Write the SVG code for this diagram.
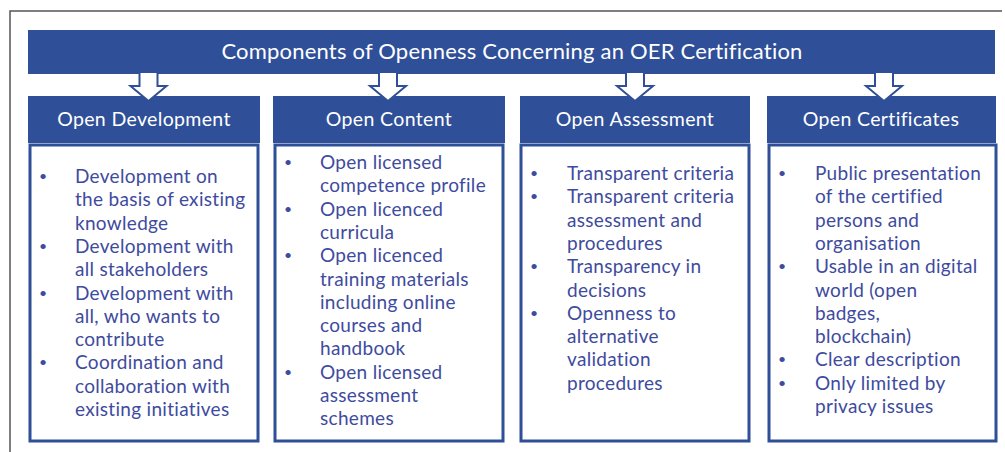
<svg xmlns="http://www.w3.org/2000/svg" width="1005" height="452" viewBox="0 0 1005 452">
<style>
.bg{fill:#fff}
.frame{fill:none;stroke:#555;stroke-width:1.5}
.band{fill:#2f4f98}
.hdr{fill:#2f4f98}
.box{fill:#fff;stroke:#2f4f98;stroke-width:3}
.arrow{fill:#fff;stroke:#2f4f98;stroke-width:2;stroke-linejoin:miter}
.title{font-family:Lato,"Liberation Sans",sans-serif;font-size:22px;letter-spacing:0.2px;fill:#fff;text-anchor:middle}
.htxt{font-family:Lato,"Liberation Sans",sans-serif;font-size:19.5px;letter-spacing:0.35px;fill:#fff;text-anchor:middle}
.item{font-family:Lato,"Liberation Sans",sans-serif;font-size:19px;letter-spacing:0.3px;fill:#3e4b9e}
.dot{font-size:14px}
</style>
<rect class="bg" x="0" y="0" width="1005" height="452"/>
<path class="frame" d="M10,452 V11 H1002"/>
<g id="title">
<rect class="band" x="28" y="30" width="967" height="44"/>
<text class="title" x="512" y="59">Components of Openness Concerning an OER Certification</text>
</g>
<g id="open-development">
<rect class="hdr" x="28" y="96" width="232" height="47"/>
<text class="htxt" x="144" y="126">Open Development</text>
<rect class="box" x="30" y="145" width="228" height="296"/>
<text class="item"><tspan class="dot" x="39" y="181">•</tspan><tspan x="75" y="183">Development on</tspan><tspan x="75" y="206.3">the basis of existing</tspan><tspan x="75" y="229.6">knowledge</tspan><tspan class="dot" x="39" y="250.9">•</tspan><tspan x="75" y="252.9">Development with</tspan><tspan x="75" y="276.2">all stakeholders</tspan><tspan class="dot" x="39" y="297.5">•</tspan><tspan x="75" y="299.5">Development with</tspan><tspan x="75" y="322.8">all, who wants to</tspan><tspan x="75" y="346.1">contribute</tspan><tspan class="dot" x="39" y="367.4">•</tspan><tspan x="75" y="369.4">Coordination and</tspan><tspan x="75" y="392.7">collaboration with</tspan><tspan x="75" y="416">existing initiatives</tspan></text>
</g>
<g id="open-content">
<rect class="hdr" x="273" y="96" width="232" height="47"/>
<text class="htxt" x="389" y="126">Open Content</text>
<rect class="box" x="275" y="145" width="228" height="296"/>
<text class="item"><tspan class="dot" x="284" y="167">•</tspan><tspan x="320" y="169">Open licensed</tspan><tspan x="320" y="192.3">competence profile</tspan><tspan class="dot" x="284" y="213.6">•</tspan><tspan x="320" y="215.6">Open licenced</tspan><tspan x="320" y="238.9">curricula</tspan><tspan class="dot" x="284" y="260.2">•</tspan><tspan x="320" y="262.2">Open licenced</tspan><tspan x="320" y="285.5">training materials</tspan><tspan x="320" y="308.8">including online</tspan><tspan x="320" y="332.1">courses and</tspan><tspan x="320" y="355.4">handbook</tspan><tspan class="dot" x="284" y="376.7">•</tspan><tspan x="320" y="378.7">Open licensed</tspan><tspan x="320" y="402">assessment</tspan><tspan x="320" y="425.3">schemes</tspan></text>
</g>
<g id="open-assessment">
<rect class="hdr" x="520" y="96" width="230" height="47"/>
<text class="htxt" x="635" y="126">Open Assessment</text>
<rect class="box" x="521" y="145" width="228" height="296"/>
<text class="item"><tspan class="dot" x="530" y="178">•</tspan><tspan x="567" y="180">Transparent criteria</tspan><tspan class="dot" x="530" y="201.3">•</tspan><tspan x="567" y="203.3">Transparent criteria</tspan><tspan x="567" y="226.6">assessment and</tspan><tspan x="567" y="249.9">procedures</tspan><tspan class="dot" x="530" y="271.2">•</tspan><tspan x="567" y="273.2">Transparency in</tspan><tspan x="567" y="296.5">decisions</tspan><tspan class="dot" x="530" y="317.8">•</tspan><tspan x="567" y="319.8">Openness to</tspan><tspan x="567" y="343.1">alternative</tspan><tspan x="567" y="366.4">validation</tspan><tspan x="567" y="389.7">procedures</tspan></text>
</g>
<g id="open-certificates">
<rect class="hdr" x="767" y="96" width="229" height="47"/>
<text class="htxt" x="881" y="126">Open Certificates</text>
<rect class="box" x="769" y="145" width="227" height="296"/>
<text class="item"><tspan class="dot" x="778" y="178">•</tspan><tspan x="815" y="180">Public presentation</tspan><tspan x="815" y="203.3">of the certified</tspan><tspan x="815" y="226.6">persons and</tspan><tspan x="815" y="249.9">organisation</tspan><tspan class="dot" x="778" y="271.2">•</tspan><tspan x="815" y="273.2">Usable in an digital</tspan><tspan x="815" y="296.5">world (open</tspan><tspan x="815" y="319.8">badges,</tspan><tspan x="815" y="343.1">blockchain)</tspan><tspan class="dot" x="778" y="364.4">•</tspan><tspan x="815" y="366.4">Clear description</tspan><tspan class="dot" x="778" y="387.7">•</tspan><tspan x="815" y="389.7">Only limited by</tspan><tspan x="815" y="413">privacy issues</tspan></text>
</g>
<g id="connectors">
<path class="arrow" d="M139.5,73 V86 H130.5 L148.5,101 L166.5,86 H157.5 V73"/>
<path class="arrow" d="M379,73 V86 H370 L388,101 L406,86 H397 V73"/>
<path class="arrow" d="M626,73 V86 H617 L635,101 L653,86 H644 V73"/>
<path class="arrow" d="M875,73 V86 H866 L884,101 L902,86 H893 V73"/>
</g>
</svg>
